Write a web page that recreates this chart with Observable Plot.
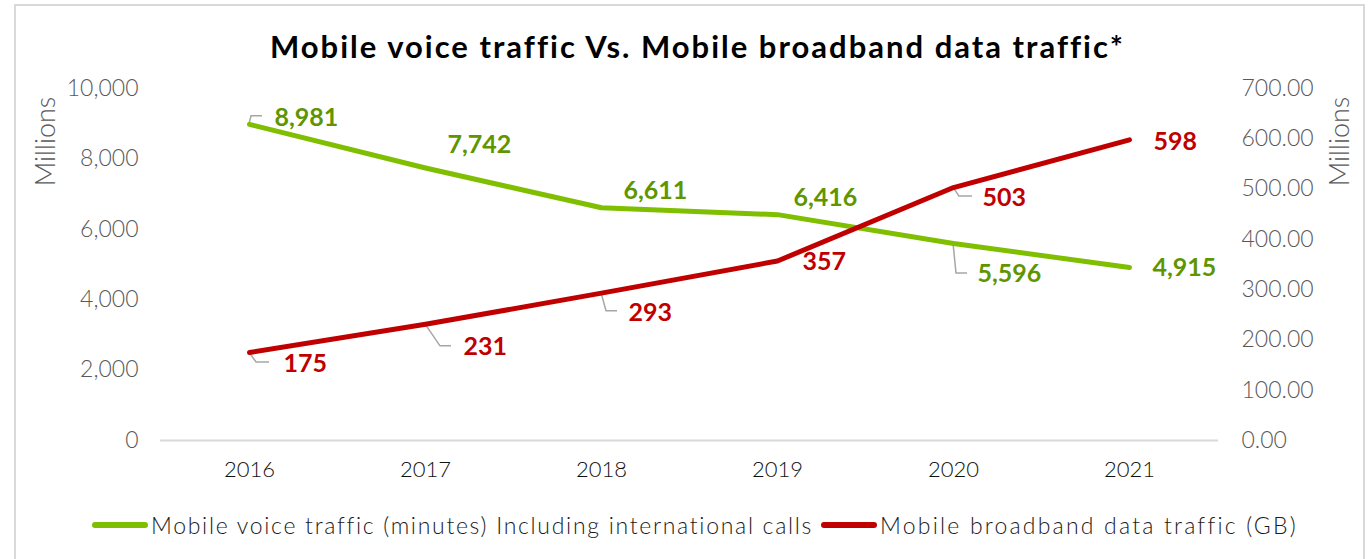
<!DOCTYPE html>
<html>
<head>
<meta charset="utf-8">
<script src="https://cdn.jsdelivr.net/npm/d3@7"></script>
<script src="https://cdn.jsdelivr.net/npm/@observablehq/plot@0.6"></script>
<style>
  html, body { margin: 0; padding: 0; background: #fff; }
  body { width: 1370px; height: 559px; position: relative; overflow: hidden; font-family: Lato, "Noto Sans", sans-serif; }
  #frame { position: absolute; left: 14px; top: 4px; width: 1351px; height: 600px; border: 2px solid #d9d9d9; box-sizing: border-box; pointer-events: none; }
  #title { height: 80px; box-sizing: border-box; padding-top: 29px; padding-left: 270px; line-height: 34px; text-align: left; font-weight: 700; font-size: 31px; letter-spacing: 2px; color: #000; white-space: nowrap; }
  #chart svg { display: block; }
  #legend { margin-top: 20px; height: 30px; display: flex; justify-content: flex-start; align-items: center; padding-left: 92px; font-size: 23px; font-weight: 300; letter-spacing: 1.7px; color: #1a1a1a; white-space: nowrap; }
  .item { display: flex; align-items: center; }
  .item.second { letter-spacing: 2.2px; }
  .sw { width: 56px; height: 6px; border-radius: 3px; margin-right: 3px; flex: none; }
</style>
</head>
<body>
<div id="frame"></div>
<div id="title">Mobile voice traffic Vs. Mobile broadband data traffic*</div>
<div id="chart"></div>
<div id="legend"></div>
<script>
// ---- data ----
const years = ["2016", "2017", "2018", "2019", "2020", "2021"];
const voiceMinutes = [8981, 7742, 6611, 6416, 5596, 4915];   // millions of minutes (left axis)
const dataGB = [175, 231, 293, 357, 503, 598];               // millions of GB (right axis)
const leftTicks = [0, 2000, 4000, 6000, 8000, 10000];
const rightTicks = [0, 100, 200, 300, 400, 500, 600, 700];
const seriesNames = ["Mobile voice traffic (minutes) Including international calls", "Mobile broadband data traffic (GB)"];

// ---- styling / layout config ----
const GREEN = "#7fbf00", GREEN_TXT = "#5f9600", RED = "#c00000", GRAY = "#595959";
const k = 10000 / 700; // right axis to left axis factor
// label offsets [dx (text start), dy (text middle)] in px
const voiceLabelOff = [[25, -6], [22, -23], [22, -17], [16, -17], [24, 30], [23, 1]];
const dataLabelOff = [[34, 11], [38, 23], [27, 20], [25, 1.5], [29, 10], [24, 2]];
// leader polylines in px relative to point (null = none)
const voiceLeaders = [[[0, 0], [2, -8], [13, -8]], null, null, null, [[0, 0], [3, 30], [14, 30]], null];
const dataLeaders = [[[0, 0], [7, 10], [20, 10]], [[0, 0], [15, 22], [26, 22]], [[0, 0], [5, 18], [16, 18]], null, [[0, 0], [6, 9], [19, 9]], null];

const voiceRows = years.map((y, i) => ({year: y, v: voiceMinutes[i]}));
const dataRows = years.map((y, i) => ({year: y, v: dataGB[i], s: dataGB[i] * k}));

const labelMarks = [];
voiceRows.forEach((d, i) => {
  labelMarks.push(Plot.text([d], {x: "year", y: "v", text: r => d3.format(",")(r.v),
    dx: voiceLabelOff[i][0], dy: voiceLabelOff[i][1], textAnchor: "start", lineAnchor: "middle",
    fill: GREEN_TXT, fontWeight: "bold", fontSize: 25}));
});
dataRows.forEach((d, i) => {
  labelMarks.push(Plot.text([d], {x: "year", y: "s", text: r => String(r.v),
    dx: dataLabelOff[i][0], dy: dataLabelOff[i][1], textAnchor: "start", lineAnchor: "middle",
    fill: RED, fontWeight: "bold", fontSize: 25}));
});

const chart = Plot.plot({
  width: 1370,
  height: 410,
  marginTop: 8,
  marginBottom: 50,
  marginLeft: 160,
  marginRight: 152,
  style: {fontFamily: "Lato, 'Noto Sans', sans-serif", background: "transparent", overflow: "visible"},
  x: {type: "point", domain: years, padding: 0.5},
  y: {domain: [0, 10000]},
  marks: [
    Plot.ruleY([0], {stroke: "#d9d9d9", strokeWidth: 2}),
    Plot.axisY({anchor: "left", ticks: leftTicks, tickSize: 0, tickPadding: 22, tickFormat: d3.format(","),
      label: null, fontSize: 23, fontWeight: 300, fill: GRAY}),
    Plot.axisY({anchor: "right", ticks: rightTicks.map(t => t * k), tickSize: 0, tickPadding: 23,
      tickFormat: d => (d / k).toFixed(2), label: null, fontSize: 23, fontWeight: 300, fill: GRAY}),
    Plot.axisX({tickSize: 0, tickPadding: 21, label: null, fontSize: 22, fontWeight: 300, fill: "#111"}),
    Plot.text(["Millions"], {frameAnchor: "top-left", textAnchor: "middle", dx: -125, dy: 53, rotate: -90, fontSize: 27, fontWeight: 300, fill: GRAY}),
    Plot.text(["Millions"], {frameAnchor: "top-right", textAnchor: "middle", dx: 111, dy: 53, rotate: -90, fontSize: 27, fontWeight: 300, fill: GRAY}),
    Plot.line(voiceRows, {x: "year", y: "v", stroke: GREEN, strokeWidth: 5, strokeLinecap: "round", strokeLinejoin: "round"}),
    Plot.line(dataRows, {x: "year", y: "s", stroke: RED, strokeWidth: 5, strokeLinecap: "round", strokeLinejoin: "round"}),
    ...labelMarks
  ]
});
document.getElementById("chart").appendChild(chart);

// leader lines through the plot's scales
const sx = chart.scale("x"), sy = chart.scale("y");
const svg = d3.select(chart);
const gL = svg.append("g").attr("fill", "none").attr("stroke", "#a6a6a6").attr("stroke-width", 1.5);
function addLeaders(rows, key, leaders) {
  rows.forEach((d, i) => {
    const L = leaders[i];
    if (!L) return;
    const px = sx.apply(d.year), py = sy.apply(d[key]);
    gL.append("path").attr("d", d3.line()(L.map(([a, b]) => [px + a, py + b])));
  });
}
addLeaders(voiceRows, "v", voiceLeaders);
addLeaders(dataRows, "s", dataLeaders);
// keep lines and labels above the leaders
Array.from(svg.node().querySelectorAll("g[aria-label='line'], g[aria-label='text']")).forEach(n => svg.node().appendChild(n));

// legend
const legend = d3.select("#legend");
[[GREEN, seriesNames[0]], [RED, seriesNames[1]]].forEach(([c, t], i) => {
  const it = legend.append("div").attr("class", i ? "item second" : "item").style("margin-left", i ? "8px" : "0");
  it.append("div").attr("class", "sw").style("background", c);
  it.append("span").text(t);
});
</script>
</body>
</html>
